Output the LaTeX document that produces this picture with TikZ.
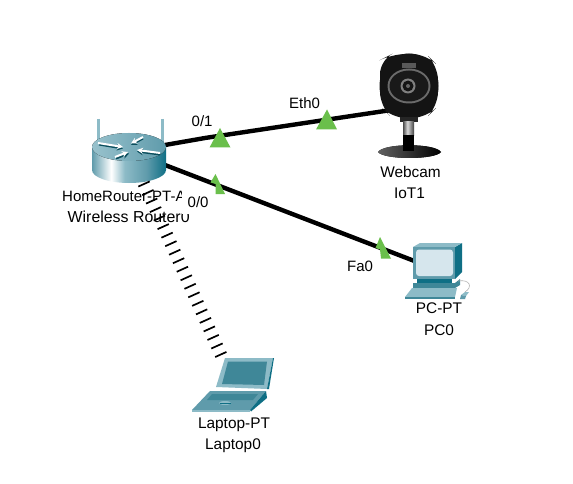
\documentclass[tikz,border=0pt]{standalone}
\usepackage{fontspec}
\setmainfont{Liberation Sans}
\usetikzlibrary{arrows.meta,decorations.pathreplacing}
\definecolor{tealA}{HTML}{5F9BAB}
\definecolor{tealB}{HTML}{0F6F85}
\definecolor{tealC}{HTML}{8DBBC7}
\definecolor{tealD}{HTML}{3F8798}
\definecolor{screenC}{HTML}{D6E6ED}
\definecolor{portG}{HTML}{6ABF4B}
\pgfdeclarehorizontalshading{routerbody}{100bp}{color(0bp)=(tealA); color(25bp)=(tealA); color(38bp)=(white); color(47bp)=(tealC); color(62bp)=(tealA); color(75bp)=(tealB); color(100bp)=(tealB)}
\pgfdeclarehorizontalshading{stemshade}{100bp}{color(0bp)=(black!70); color(25bp)=(black!70); color(45bp)=(white!85!black); color(75bp)=(black!75); color(100bp)=(black!75)}
\tikzset{
  wired/.style={draw=black,line width=4.4pt},
  wireless/.style={draw=black,line width=1.7pt,decorate,decoration={ticks,segment length=9.35pt,amplitude=6.2pt}},
  port/.style={fill=portG,draw=none},
  lbl/.style={inner sep=0pt,font=\fontsize{15.4}{15.4}\selectfont,text=black},
  portlbl/.style={inner sep=0pt,font=\fontsize{15}{15}\selectfont,text=black},
  widelbl/.style={inner sep=0pt,font=\fontsize{15.9}{15.9}\selectfont,text=black},
  devicebox/.style={inner sep=0pt,draw=none},
  routerarrow/.style={draw=white,line width=2pt,-{Stealth[length=6pt,width=6pt]}},
  routershadow/.style={draw=tealB!70!black,line width=2pt,-{Stealth[length=6pt,width=6pt]}},
}
\begin{document}
\begin{tikzpicture}[x=1pt,y=-1pt]
\useasboundingbox (0,0) rectangle (573,484);
\fill[white] (0,0) rectangle (573,484);
% device anchors
\node[devicebox,minimum width=74pt,minimum height=50pt] (router) at (129,158) {};
\node[devicebox,minimum width=64pt,minimum height=105pt] (webcam) at (409,106) {};
\node[devicebox,minimum width=64pt,minimum height=58pt] (pc) at (437,270) {};
\node[devicebox,minimum width=80pt,minimum height=54pt] (laptop) at (233,385) {};
\coordinate (bendA) at (205,138);
\coordinate (routerA) at (165,145);
\coordinate (routerB) at (165,165);
\coordinate (camEnd) at (388,110.5);
\coordinate (pcEnd) at (417,262);
\coordinate (wlStart) at (144,184);
\coordinate (wlEnd) at (221.5,356);
% connectors
\draw[wired] (routerA) -- (bendA) -- (camEnd);
\draw[wired] (routerB) -- (pcEnd);
% ports
\fill[port] (220,128) -- (230.5,147.5) -- (209.5,147.5) -- cycle;
\fill[port] (327,109.5) -- (337,129.5) -- (316,129.5) -- cycle;
\fill[port] (215.5,174) -- (225,194) -- (215.5,194) -- (215.5,184) -- (210.5,182.5) -- cycle;
\fill[port] (380,237) -- (391,258.5) -- (381,258.5) -- (380,249.5) -- (375.5,248) -- cycle;
% router
\draw[tealC,line width=3pt] (98,119) -- (98,142);
\draw[tealC,line width=3pt] (162,119) -- (162,142);
\shade[shading=routerbody] (92,147) -- (92,170) arc[start angle=180,end angle=0,x radius=37,y radius=13] -- (166,147) -- cycle;
\fill[left color=tealC!90!white,right color=tealA] (129,147) ellipse[x radius=37,y radius=14];
\draw[routershadow] (99,144.5) -- (123,148.5);
\draw[routerarrow] (98,143) -- (123,147);
\draw[routershadow] (143,138.5) -- (131,145);
\draw[routerarrow] (143,137) -- (131,143.5);
\draw[routershadow] (116,158.5) -- (129,153.5);
\draw[routerarrow] (115,157) -- (128,152);
\draw[routershadow] (160,154.5) -- (137,151.5);
\draw[routerarrow] (160,153) -- (137,150);
% router labels
\node[portlbl,anchor=base west] (routerType) at (62,201) {HomeRouter-PT-A};
\node[widelbl,anchor=base west] (routerName) at (67.5,222) {Wireless Router0};
\fill[white] (182,186) rectangle (212,213.5);
\node[portlbl,anchor=base west] (portB) at (187.5,207) {0/0};
% wireless connector
\draw[wireless] (wlStart) -- (wlEnd);
% webcam
\fill[black!92,rounded corners=14pt] (380,60) -- (392,54) -- (426,54) -- (438,66) -- (438,106) -- (426,118) -- (392,118) -- (380,106) -- cycle;
\fill[black!92] (409,86) ellipse[x radius=29.5,y radius=32.5];
\fill[black!65] (402,63) rectangle (416,68);
\fill[black!58] (409,86) ellipse[x radius=21.5,y radius=17.5];
\fill[black!90] (409,86) ellipse[x radius=19.5,y radius=15.5];
\fill[black!50] (408,86) circle[radius=7.5];
\fill[black!92] (408,86) circle[radius=5.5];
\fill[black!60] (408,86) circle[radius=2];
\fill[black!85] (400,117) rectangle (418,122);
\shade[shading=stemshade] (403,122) rectangle (414,136);
\fill[left color=black!62,right color=black] (378,152) .. controls (384,143) and (435,143) .. (441,152) .. controls (435,160) and (384,160) .. (378,152) -- cycle;
\fill[black] (403,135) rectangle (414,151);
\node[lbl,anchor=base] (camType) at (410.5,177) {Webcam};
\node[lbl,anchor=base] (camName) at (409.5,198) {IoT1};
% PC
\fill[tealB] (455,247) -- (462,243) -- (462,272) -- (455,279) -- cycle;
\fill[tealC] (413,247) -- (420,243) -- (462,243) -- (455,247) -- cycle;
\fill[tealA] (413,247) rectangle (455,279);
\fill[screenC,rounded corners=3pt] (416,249.5) rectangle (453,276);
\fill[tealB] (417,279) -- (452,279) -- (452,283) -- (417,283) -- cycle;
\fill[tealD] (413,283) -- (455,283) -- (460,279) -- (460,285) -- (455,288) -- (413,288) -- cycle;
\fill[tealC] (412,288) -- (457,288) -- (455,297) -- (405,297) -- cycle;
\fill[tealD] (405,297) rectangle (455,299);
\draw[black!30,line width=.6pt] (458,281) .. controls (470,279) and (473,287) .. (465,292);
\fill[tealC] (461,295) -- (465,292) -- (469,292) -- (466,296) -- cycle;
\fill[tealA] (461,295) -- (466,296) -- (465,299) -- (460,299) -- cycle;
\node[lbl,anchor=base] (pcType) at (439,313.5) {PC-PT};
\node[lbl,anchor=base] (pcName) at (439,335) {PC0};
% laptop
\fill[tealC] (216,387) -- (225,358) -- (273,358) -- (267,389) -- cycle;
\fill[tealD] (222,384) -- (228,361.5) -- (267,361.5) -- (264,385) -- cycle;
\fill[tealB] (267,389) -- (273,358) -- (274,358) -- (269,389) -- cycle;
\fill[tealA] (192,410) -- (210,391) -- (266,391) -- (250,410) -- cycle;
\fill[tealD] (212,394) -- (258,394) -- (253,400) -- (207,400) -- cycle;
\fill[tealB] (250,410) -- (266,391) -- (267,398) -- (251,411.5) -- cycle;
\fill[tealC] (192,410) rectangle (250,411.5);
\fill[tealC] (225,403) ellipse[x radius=6,y radius=2];
\draw[tealB,line width=.7pt] (220,403) -- (231,403);
\node[lbl,anchor=base] (lapType) at (234,428) {Laptop-PT};
\node[lbl,anchor=base] (lapName) at (233,449) {Laptop0};
% port labels
\node[portlbl,anchor=base west] (portA) at (191.5,127) {0/1};
\node[portlbl,anchor=base west] (portC) at (289,109) {Eth0};
\node[portlbl,anchor=base west] (portD) at (347,271) {Fa0};
\end{tikzpicture}
\end{document}
